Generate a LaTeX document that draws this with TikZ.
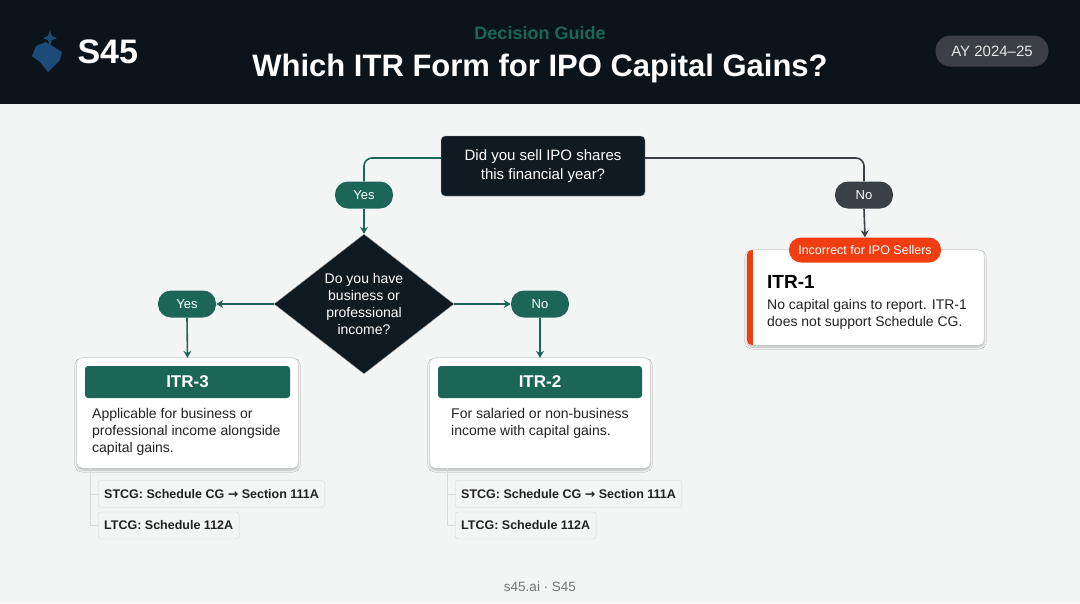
\documentclass[tikz,border=0pt]{standalone}
\usepackage{fontspec}
\setmainfont{Liberation Sans}
\newfontfamily\sym{DejaVu Sans}
\usetikzlibrary{shapes.geometric,arrows.meta,shadows.blur}
\definecolor{hdr}{HTML}{0B141B}
\definecolor{bg}{HTML}{F3F4F4}
\definecolor{teal}{HTML}{1C6658}
\definecolor{dk}{HTML}{101B21}
\definecolor{gr}{HTML}{3A4045}
\definecolor{red}{HTML}{F03E12}
\definecolor{txt}{HTML}{222222}
\definecolor{bd}{HTML}{D5D9DA}
\definecolor{navy}{HTML}{1E4A78}
\begin{document}
\begin{tikzpicture}[x=1pt,y=-1pt,
 ln/.style={teal,line width=1.6pt},
 arr/.style={ln,-{Stealth[length=7pt,width=8pt]}},
 pill/.style={rounded corners=13pt,minimum width=58pt,minimum height=27pt,text=white,font=\fontsize{13}{15}\selectfont,inner sep=0pt},
 card/.style={fill=white,draw=bd,rounded corners=5pt,blur shadow={shadow blur steps=6,shadow xshift=0pt,shadow yshift=-2pt,shadow opacity=25}},
 sub/.style={draw=bd,fill=bg,rounded corners=3pt,inner xsep=6pt,minimum height=27pt,anchor=west,font=\fontsize{12.5}{14}\selectfont\bfseries,text=txt},
 body/.style={anchor=north west,align=left,font=\fontsize{14}{17}\selectfont,text=txt,inner sep=0pt}]
\useasboundingbox (0,0) rectangle (1080,603);
\fill[bg] (0,0) rectangle (1080,603);
\fill[hdr] (0,0) rectangle (1080,104);
% logo
\fill[navy] (36,46) -- (46,42) -- (62,52) -- (60,60) -- (48,72) -- (40,62) -- (32,56) -- cycle;
\fill[navy] (50,30) -- (52,36) -- (57,38) -- (52,40) -- (50,46) -- (48,40) -- (43,38) -- (48,36) -- cycle;
\node[text=white,font=\fontsize{34}{36}\selectfont\bfseries,anchor=west] (logo) at (74,52) {S45};
\node[text=teal,font=\fontsize{18}{20}\selectfont\bfseries] (dg) at (540,33) {Decision Guide};
\node[text=white,font=\fontsize{31}{34}\selectfont\bfseries] (title) at (540,68) {Which ITR Form for IPO Capital Gains?};
\node[fill=gr,rounded corners=15pt,minimum width=113pt,minimum height=31pt,text=white!80!gray,font=\fontsize{15}{17}\selectfont] (ay) at (992,51) {AY 2024--25};
% Q1
\node[fill=dk,draw=gray!60,rounded corners=4pt,minimum width=204pt,minimum height=60pt,align=center,text=white,font=\fontsize{15}{19}\selectfont] (q1) at (543,166) {Did you sell IPO shares\\this financial year?};
\node[pill,fill=teal] (yes1) at (364,195) {Yes};
\node[pill,fill=gr] (no1) at (864,195) {No};
\draw[ln,rounded corners=8pt] (q1.west|-0,158) -- (364,158) -- (yes1.north);
\draw[ln,gr,rounded corners=8pt] (q1.east|-0,158) -- (864,158) -- (no1.north);
\node[diamond,fill=dk,draw=gray!60,minimum width=180pt,minimum height=132pt,inner sep=0pt,align=center,text=white,font=\fontsize{14}{17}\selectfont] (q2) at (364,304) {Do you have\\business or\\professional\\income?};
\draw[arr] (yes1.south) -- (q2.north);
\node[pill,fill=teal] (yes2) at (187,304) {Yes};
\node[pill,fill=teal] (no2) at (540,304) {No};
\draw[arr] (q2.west) -- (yes2.east);
\draw[arr] (q2.east) -- (no2.west);
% ITR-3
\node[card,minimum width=221pt,minimum height=110pt] (c3) at (187.5,413) {};
\node[fill=teal,rounded corners=3pt,minimum width=205pt,minimum height=32pt,text=white,font=\fontsize{17}{19}\selectfont\bfseries] (h3) at (187.5,382) {ITR-3};
\node[body] (b3) at (92,408) {Applicable for business or\\professional income alongside\\capital gains.};
\draw[arr] (yes2.south) -- (c3.north);
\draw[bd,line width=1pt] (90,468) -- (90,525) -- (98,525);
\draw[bd,line width=1pt] (90,494) -- (98,494);
\node[sub] (s31) at (98,494) {STCG: Schedule CG {\sym →} Section 111A};
\node[sub] (s32) at (98,525.5) {LTCG: Schedule 112A};
% ITR-2
\node[card,minimum width=220pt,minimum height=110pt] (c2) at (540,413) {};
\node[fill=teal,rounded corners=3pt,minimum width=204pt,minimum height=32pt,text=white,font=\fontsize{17}{19}\selectfont\bfseries] (h2) at (540,382) {ITR-2};
\node[body] (b2) at (451,408) {For salaried or non-business\\income with capital gains.};
\draw[arr] (no2.south) -- (c2.north);
\draw[bd,line width=1pt] (447,468) -- (447,525) -- (455,525);
\draw[bd,line width=1pt] (447,494) -- (455,494);
\node[sub] (s21) at (455,494) {STCG: Schedule CG {\sym →} Section 111A};
\node[sub] (s22) at (455,525.5) {LTCG: Schedule 112A};
% ITR-1
\node[card,minimum width=237pt,minimum height=95pt] (c1) at (865.5,297.5) {};
\begin{scope}
\clip[rounded corners=5pt] (747,250) rectangle (984,345);
\fill[red] (747,250) rectangle (753,345);
\end{scope}
\node[fill=red,rounded corners=12pt,minimum width=152pt,minimum height=25pt,text=white,font=\fontsize{12.5}{14}\selectfont,inner sep=0pt] (bad) at (865,250) {Incorrect for IPO Sellers};
\draw[ln,gr,-{Stealth[length=7pt,width=8pt]}] (no1.south) -- (bad.north);
\node[anchor=west,font=\fontsize{19}{21}\selectfont\bfseries,text=black,inner sep=0pt] (t1) at (767,282) {ITR-1};
\node[body] (b1) at (767,299) {No capital gains to report. ITR-1\\does not support Schedule CG.};
\node[text=gray!90!black,font=\fontsize{13.5}{15}\selectfont] (ft) at (540,587) {s45.ai · S45};
\end{tikzpicture}
\end{document}
